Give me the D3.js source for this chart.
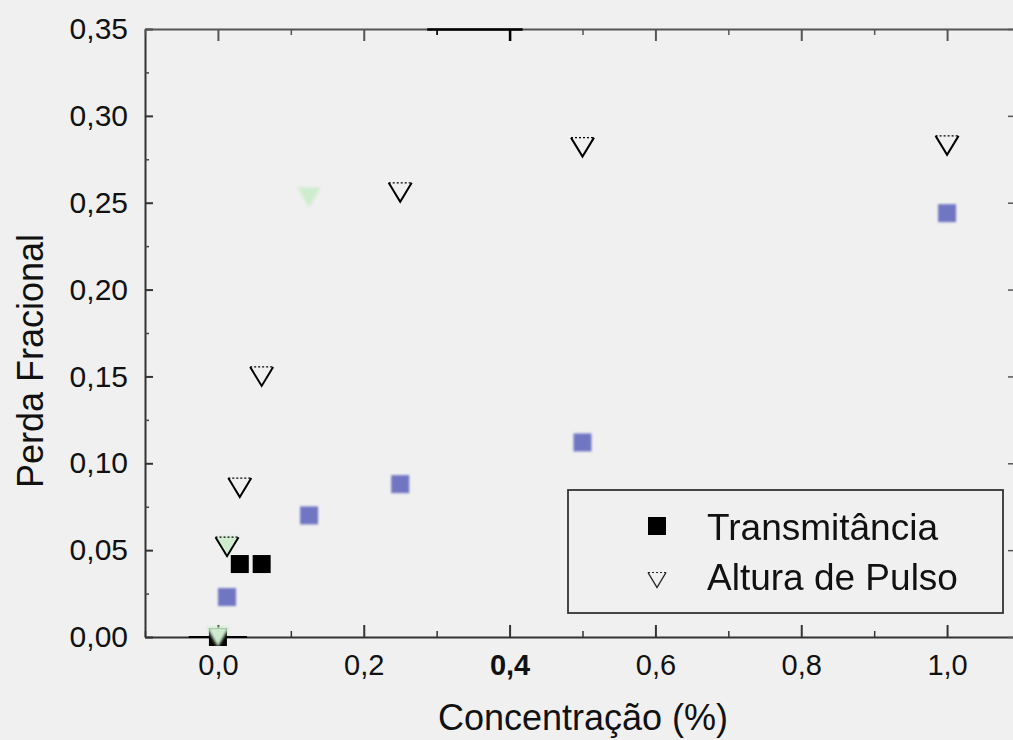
<!DOCTYPE html>
<html>
<head>
<meta charset="utf-8">
<script src="https://cdn.jsdelivr.net/npm/d3@7"></script>
<style>
  html, body { margin: 0; padding: 0; background: #f0f0f0; }
  svg { display: block; }
  text { font-family: "Liberation Sans", Arial, Helvetica, sans-serif; fill: #111; }
</style>
</head>
<body>
<svg id="chart" width="1013" height="740"></svg>
<script>
// Transmitância (blue squares)
const transX = [0.0125, 0.125, 0.25, 0.5, 1.0];
const transY = [0.023, 0.070, 0.088, 0.112, 0.244];
// Transmitância (black squares)
const transBlackX = [0, 0.03, 0.06];
const transBlackY = [0, 0.042, 0.042];
// Altura de Pulso (open triangles)
const pulsoX = [0.0125, 0.03, 0.06, 0.25, 0.5, 1.0];
const pulsoY = [0.052, 0.086, 0.150, 0.256, 0.282, 0.283];
// Altura de Pulso (light green triangles)
const pulsoGreenX = [0, 0.0125, 0.125];
const pulsoGreenY = [0, 0.052, 0.253];
// horizontal error bar at the origin
const errX = [0];
const errY = [0];
const errDx = [0.04];

const xMajorTicks = [0, 0.2, 0.4, 0.6, 0.8, 1.0];
const xMinorTicks = [-0.1, 0.1, 0.3, 0.5, 0.7, 0.9];
const yMajorTicks = [0, 0.05, 0.10, 0.15, 0.20, 0.25, 0.30, 0.35];
const yMinorTicks = [0.025, 0.075, 0.125, 0.175, 0.225, 0.275, 0.325];
const xBoldTick = 0.4;
const legendLabels = ["Transmitância", "Altura de Pulso"];
const xTitle = "Concentração (%)";
const yTitle = "Perda Fracional";

const svg = d3.select("#chart");
const W = 1013, H = 740;
const plot = { left: 145, right: 1020, top: 29, bottom: 637 };

svg.append("rect").attr("width", W).attr("height", H).attr("fill", "#f0f0f0");

const defs = svg.append("defs");
defs.append("filter").attr("id", "softBlue").attr("x", "-50%").attr("y", "-50%").attr("width", "200%").attr("height", "200%")
  .append("feGaussianBlur").attr("stdDeviation", 0.8);
defs.append("filter").attr("id", "softGreen").attr("x", "-50%").attr("y", "-50%").attr("width", "200%").attr("height", "200%")
  .append("feGaussianBlur").attr("stdDeviation", 1.4);

const x = d3.scaleLinear().domain([-0.1, 1.1]).range([plot.left, plot.right]);
const y = d3.scaleLinear().domain([0, 0.35]).range([plot.bottom, plot.top]);

const comma = (v, d) => v.toFixed(d).replace(".", ",");

function styleAxis(g, color, width) {
  g.selectAll("path.domain").attr("stroke", color).attr("stroke-width", width);
  g.selectAll(".tick line").attr("stroke", color).attr("stroke-width", width);
}

// ---- bottom axis ----
const bottomMajor = svg.append("g").attr("transform", `translate(0,${plot.bottom})`)
  .call(d3.axisBottom(x).tickValues(xMajorTicks).tickSizeInner(-12).tickSizeOuter(0)
    .tickPadding(17).tickFormat(d => comma(d, 1)));
styleAxis(bottomMajor, "#333", 2);
bottomMajor.selectAll("text").attr("font-size", 29).attr("fill", "#111")
  .attr("font-weight", d => d === xBoldTick ? "bold" : "normal");
const bottomMinor = svg.append("g").attr("transform", `translate(0,${plot.bottom})`)
  .call(d3.axisBottom(x).tickValues(xMinorTicks).tickSizeInner(-6).tickSizeOuter(0).tickFormat(""));
styleAxis(bottomMinor, "#333", 1.5);
bottomMinor.select("path.domain").remove();

// ---- left axis ----
const leftMajor = svg.append("g").attr("transform", `translate(${plot.left},0)`)
  .call(d3.axisLeft(y).tickValues(yMajorTicks).tickSizeInner(-8).tickSizeOuter(0)
    .tickPadding(17).tickFormat(d => comma(d, 2)));
styleAxis(leftMajor, "#333", 2);
leftMajor.selectAll("text").attr("font-size", 30).attr("fill", "#111");
const leftMinor = svg.append("g").attr("transform", `translate(${plot.left},0)`)
  .call(d3.axisLeft(y).tickValues(yMinorTicks).tickSizeInner(-4).tickSizeOuter(0).tickFormat(""));
styleAxis(leftMinor, "#444", 1.5);
leftMinor.select("path.domain").remove();

// ---- top axis (gray, with a darker stretch) ----
function topAxis(parent, color, lineWidth) {
  const gMaj = parent.append("g").attr("transform", `translate(0,${plot.top})`)
    .call(d3.axisTop(x).tickValues(xMajorTicks).tickSizeInner(-12).tickSizeOuter(0).tickFormat(""));
  styleAxis(gMaj, color, lineWidth);
  const gMin = parent.append("g").attr("transform", `translate(0,${plot.top})`)
    .call(d3.axisTop(x).tickValues(xMinorTicks).tickSizeInner(-6).tickSizeOuter(0).tickFormat(""));
  styleAxis(gMin, color, 1.5);
  gMin.select("path.domain").remove();
}
topAxis(svg.append("g"), "#555", 2);
defs.append("clipPath").attr("id", "darkStretch").append("rect")
  .attr("x", x(0.287)).attr("y", 0).attr("width", x(0.418) - x(0.287)).attr("height", plot.top + 20);
topAxis(svg.append("g").attr("clip-path", "url(#darkStretch)"), "#000", 2.5);

// ---- right axis (line sits just past the edge, ticks reach in) ----
const rightMajor = svg.append("g").attr("transform", `translate(${plot.right},0)`)
  .call(d3.axisRight(y).tickValues(yMajorTicks).tickSizeInner(-12).tickSizeOuter(0).tickFormat(""));
styleAxis(rightMajor, "#555", 1.5);

// ---- error bar at origin ----
svg.append("g").selectAll("line").data(errX).join("line")
  .attr("x1", (d, i) => x(d - errDx[i])).attr("x2", (d, i) => x(d + errDx[i]))
  .attr("y1", (d, i) => y(errY[i])).attr("y2", (d, i) => y(errY[i]))
  .attr("stroke", "#000").attr("stroke-width", 2);

// ---- markers ----
const SQ = 18, SQB = 18;
const triDown = (w, h) => `M${-w/2},${-h/2}L${w/2},${-h/2}L0,${h/2}Z`;
const triSides = (w, h) => `M${-w/2},${-h/2}L0,${h/2}L${w/2},${-h/2}`;
const triTop = (w, h) => `M${-w/2},${-h/2}L${w/2},${-h/2}`;

// black squares
svg.append("g").selectAll("rect").data(transBlackX).join("rect")
  .attr("x", d => x(d) - SQB / 2).attr("y", (d, i) => y(transBlackY[i]) - SQB / 2)
  .attr("width", SQB).attr("height", SQB).attr("fill", "#000");

// green triangles
svg.append("g").attr("filter", "url(#softGreen)").selectAll("path").data(pulsoGreenX).join("path")
  .attr("transform", (d, i) => `translate(${x(d)},${y(pulsoGreenY[i])})`)
  .attr("d", triDown(23, 20)).attr("fill", "#cdeccd");

// blue squares
svg.append("g").attr("filter", "url(#softBlue)").selectAll("rect").data(transX).join("rect")
  .attr("x", d => x(d) - SQ / 2).attr("y", (d, i) => y(transY[i]) - SQ / 2)
  .attr("width", SQ).attr("height", SQ).attr("fill", "#7176c3");

// open triangles with dashed top edge
const tri = svg.append("g").selectAll("g").data(pulsoX).join("g")
  .attr("transform", (d, i) => `translate(${x(d)},${y(pulsoY[i])})`);
tri.append("path").attr("d", triSides(23, 19)).attr("fill", "none")
  .attr("stroke", "#000").attr("stroke-width", 2).attr("stroke-linejoin", "miter");
tri.append("path").attr("d", triTop(23, 19)).attr("fill", "none")
  .attr("stroke", "#000").attr("stroke-width", 1.3).attr("stroke-dasharray", "2,2");

// ---- legend ----
const lg = svg.append("g").attr("transform", "translate(568,490)");
lg.append("rect").attr("width", 435).attr("height", 123)
  .attr("fill", "none").attr("stroke", "#333").attr("stroke-width", 1.8);
lg.append("rect").attr("x", 80).attr("y", 27).attr("width", 18).attr("height", 18).attr("fill", "#000");
lg.append("path").attr("transform", "translate(89,90)").attr("d", triSides(18, 15))
  .attr("fill", "none").attr("stroke", "#222").attr("stroke-width", 1.4);
lg.append("path").attr("transform", "translate(89,90)").attr("d", triTop(18, 15))
  .attr("fill", "none").attr("stroke", "#222").attr("stroke-width", 1).attr("stroke-dasharray", "2,2");
lg.selectAll("text.lab").data(legendLabels).join("text").attr("class", "lab")
  .attr("x", 139).attr("y", (d, i) => 50 + i * 50)
  .attr("font-size", 37).text(d => d);

// ---- axis titles ----
svg.append("text").attr("x", 583).attr("y", 730).attr("text-anchor", "middle")
  .attr("font-size", 36).text(xTitle);
svg.append("text").attr("transform", "translate(43,361) rotate(-90)").attr("text-anchor", "middle")
  .attr("font-size", 36).text(yTitle);
</script>
</body>
</html>
